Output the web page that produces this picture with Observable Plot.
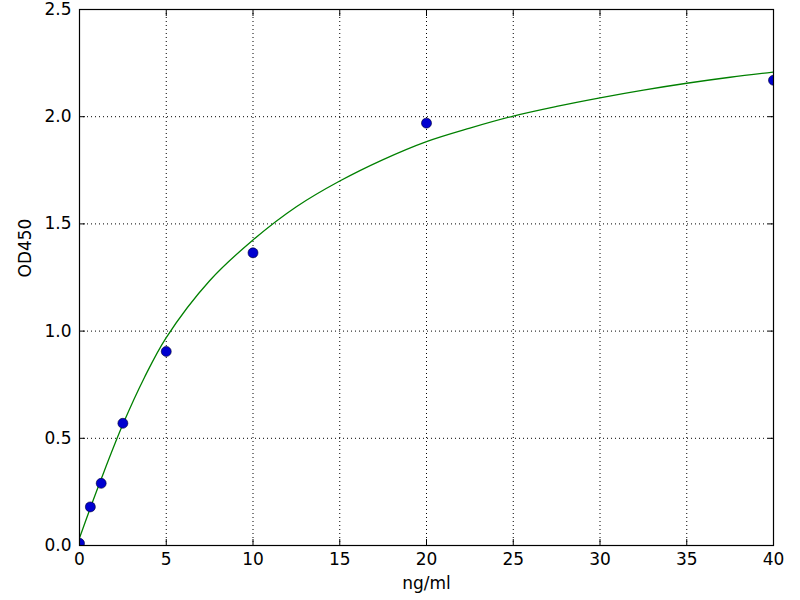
<!DOCTYPE html>
<html>
<head>
<meta charset="utf-8">
<script src="https://cdn.jsdelivr.net/npm/d3@7"></script>
<script src="https://cdn.jsdelivr.net/npm/@observablehq/plot@0.6"></script>
<style>
  html, body { margin: 0; padding: 0; background: white; }
</style>
</head>
<body>
<div id="chart"></div>
<script>
// Measured standards
const concentrations = [0, 0.625, 1.25, 2.5, 5, 10, 20, 40];
const odValues = [0.01, 0.18, 0.29, 0.57, 0.905, 1.365, 1.97, 2.17];

// Fitted curve
const curveX = [0, 0.625, 1.25, 2.5, 3.75, 5, 7.5, 10, 12.5, 15, 17.5, 20, 22.5, 25, 27.5, 30, 32.5, 35, 37.5, 40];
const curveY = [0.035, 0.175, 0.31, 0.565, 0.785, 0.97, 1.235, 1.425, 1.58, 1.70, 1.80, 1.884, 1.947, 2.003, 2.048, 2.088, 2.124, 2.156, 2.184, 2.208];

const xTicks = [0, 5, 10, 15, 20, 25, 30, 35, 40];
const yTicks = [0, 0.5, 1.0, 1.5, 2.0, 2.5];
const yTickLabels = ["0.0", "0.5", "1.0", "1.5", "2.0", "2.5"];
const xLabel = "ng/ml";
const yLabel = "OD450";

const points = concentrations.map((x, i) => ({x, y: odValues[i]}));
const curve = curveX.map((x, i) => ({x, y: curveY[i]}));

const blank = () => "";

const chart = Plot.plot({
  width: 800,
  height: 600,
  marginLeft: 79,
  marginRight: 27,
  marginTop: 9,
  marginBottom: 55,
  style: {fontFamily: "DejaVu Sans", fontSize: "17px", background: "white", color: "black"},
  x: {domain: [0, 40]},
  y: {domain: [0, 2.5]},
  marks: [
    Plot.gridX(xTicks, {stroke: "black", strokeOpacity: 1, strokeWidth: 1, strokeDasharray: "1,3"}),
    Plot.gridY(yTicks, {stroke: "black", strokeOpacity: 1, strokeWidth: 1, strokeDasharray: "1,3"}),
    Plot.line(curve, {x: "x", y: "y", stroke: "#008000", strokeWidth: 1.3, curve: "catmull-rom", clip: true}),
    Plot.dot(points, {x: "x", y: "y", r: 5, fill: "#0000d0", stroke: "#000030", strokeWidth: 0.6, clip: true}),
    // inward tick marks on all four sides
    Plot.axisX(xTicks, {anchor: "bottom", tickSize: -6, tickFormat: blank, label: null}),
    Plot.axisX(xTicks, {anchor: "top", tickSize: -6, tickFormat: blank, label: null}),
    Plot.axisY(yTicks, {anchor: "left", tickSize: -6, tickFormat: blank, label: null}),
    Plot.axisY(yTicks, {anchor: "right", tickSize: -6, tickFormat: blank, label: null}),
    // tick labels
    Plot.axisX(xTicks, {anchor: "bottom", tickSize: 0, tickPadding: 7, fontSize: 17, tickFormat: d => String(d), label: null}),
    Plot.axisY(yTicks, {anchor: "left", tickSize: 0, tickPadding: 8, fontSize: 17, tickFormat: (d, i) => yTickLabels[i], label: null}),
    Plot.frame({stroke: "black", strokeWidth: 1.2}),
    Plot.text([xLabel], {frameAnchor: "bottom", dy: 43, fontSize: 17, text: d => d}),
    Plot.text([yLabel], {frameAnchor: "left", dx: -54, rotate: -90, fontSize: 17, text: d => d})
  ]
});

document.getElementById("chart").appendChild(chart);
</script>
</body>
</html>
